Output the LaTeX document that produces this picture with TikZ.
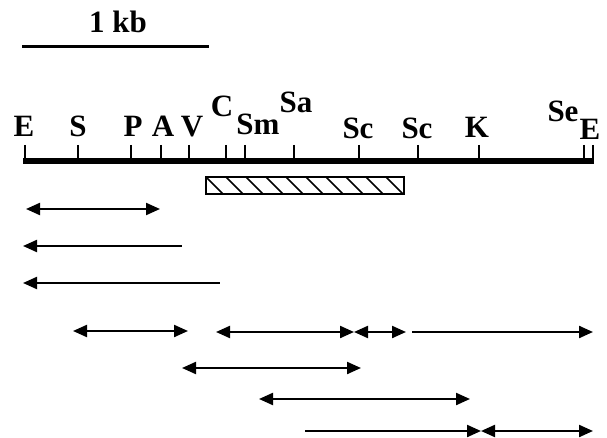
\documentclass[tikz,border=0pt]{standalone}
\usepackage{fontspec}
\setmainfont{Liberation Serif}
\usetikzlibrary{arrows.meta}
\begin{document}
\begin{tikzpicture}[x=1pt,y=-1pt,
  lbl/.style={anchor=base,inner sep=0pt,font=\fontsize{31}{31}\selectfont\bfseries},
  tip/.tip={Triangle[length=14pt,width=12pt]},
  frag/.style={line width=2.2pt,tip-tip},
  fragL/.style={line width=2.2pt,tip-},
  fragR/.style={line width=2.2pt,-tip},
  tick/.style={line width=1.8pt}]
\useasboundingbox (0,0) rectangle (607,438);
% scale bar
\node[lbl] (kb) at (118,33) {1 kb};
\draw[line width=3pt] (22,47) -- (209,47);
% main line
\draw[line width=5.5pt] (23,161) -- (594,161);
\foreach \x in {25,78,131,161,189,226,245,294,359,418,479,584,593}
  \draw[tick] (\x,145) -- (\x,161);
% labels
\node[lbl] (E1) at (24,137) {E};
\node[lbl] (S) at (78,137) {S};
\node[lbl] (P) at (133,137) {P};
\node[lbl] (A) at (163,137) {A};
\node[lbl] (V) at (192,137) {V};
\node[lbl] (C) at (222,117) {C};
\node[lbl] (Sm) at (258,135) {Sm};
\node[lbl] (Sa) at (296,113) {Sa};
\node[lbl] (Sc1) at (358,139) {Sc};
\node[lbl] (Sc2) at (417,139) {Sc};
\node[lbl] (K) at (477,138) {K};
\node[lbl] (Se) at (563,122) {Se};
\node[lbl] (E2) at (590,140) {E};
% hatched box
\begin{scope}
\clip (206,177) rectangle (404,194);
\foreach \x in {206,226,...,406}
  \draw[line width=1.6pt] (\x,177) -- ++(17,17);
\end{scope}
\draw[line width=1.6pt] (206,177) rectangle (404,194);
% fragments
\draw[frag] (26,209) -- (160,209);
\draw[fragL] (23,246) -- (182,246);
\draw[fragL] (23,283) -- (220,283);
\draw[frag] (73,331) -- (188,331);
\draw[frag] (216,332) -- (354,332);
\draw[frag] (354,332) -- (406,332);
\draw[fragR] (412,332) -- (593,332);
\draw[frag] (182,368) -- (361,368);
\draw[frag] (259,399) -- (470,399);
\draw[fragR] (305,431) -- (481,431);
\draw[frag] (481,431) -- (593,431);
\end{tikzpicture}
\end{document}
